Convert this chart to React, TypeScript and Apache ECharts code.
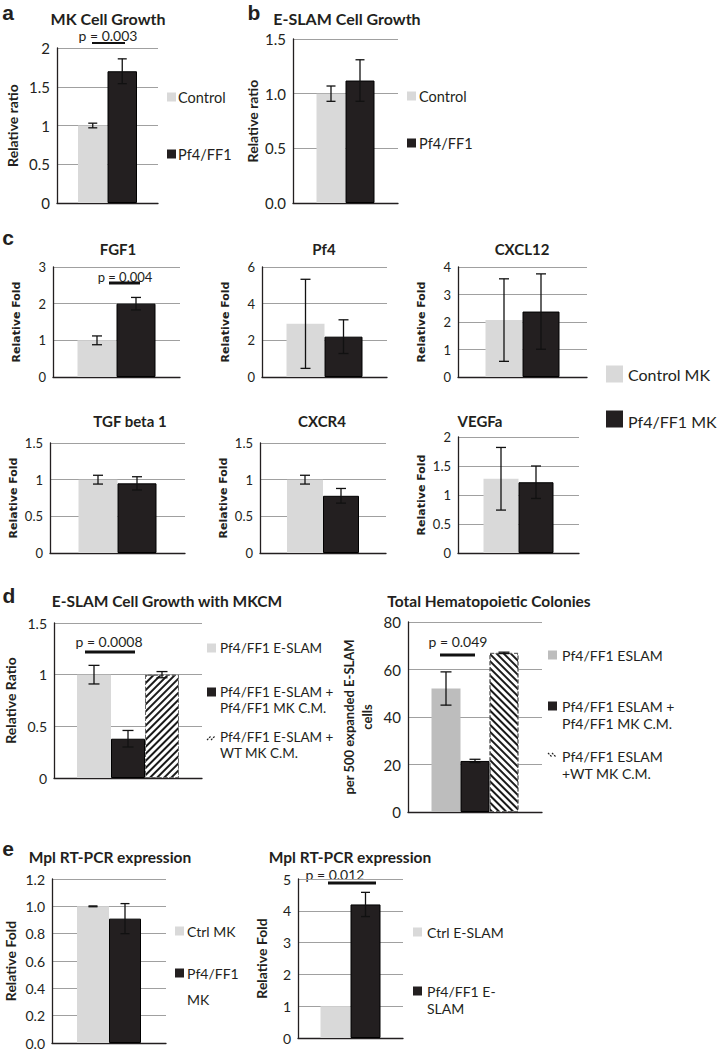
import React, { useEffect, useRef } from 'react';
import * as echarts from 'echarts';

const FONT = 'Lato, "Open Sans", sans-serif';
const LIGHT = '#d9d9d9';
const MID = '#bdbdbd';
const DARK = '#231f20';
const GRIDC = '#a0a0a0';
const AXISC = '#231f20';
const TEXTC = '#231f20';

// ---------- data ----------
// a: MK Cell Growth
const aNames = ['Control', 'Pf4/FF1'];
const aValues = [1.0, 1.7];
const aErrors = [0.03, 0.16];
const aRange = [0, 2, 0.5];

// b: E-SLAM Cell Growth
const bNames = ['Control', 'Pf4/FF1'];
const bValues = [1.0, 1.12];
const bErrors = [0.07, 0.19];
const bRange = [0, 1.5, 0.5];

// c: gene expression
const cNames = ['Control MK', 'Pf4/FF1 MK'];
const cGenes = ['FGF1', 'Pf4', 'CXCL12', 'TGF beta 1', 'CXCR4', 'VEGFa'];
const cControl = [1.0, 2.9, 2.07, 1.0, 1.0, 1.28];
const cControlErr = [0.12, 2.43, 1.5, 0.06, 0.06, 0.54];
const cPf4 = [2.0, 2.2, 2.38, 0.95, 0.78, 1.22];
const cPf4Err = [0.17, 0.92, 1.37, 0.09, 0.1, 0.28];
const cMax = [3, 6, 4, 1.5, 1.5, 2];
const cStep = [1, 2, 1, 0.5, 0.5, 0.5];

// d: E-SLAM Cell Growth with MKCM
const dLeftNames = ['Pf4/FF1 E-SLAM', 'Pf4/FF1 E-SLAM + Pf4/FF1 MK C.M.', 'Pf4/FF1 E-SLAM + WT MK C.M.'];
const dLeftValues = [1.0, 0.38, 1.0];
const dLeftErrors = [0.09, 0.08, 0.03];
const dLeftRange = [0, 1.5, 0.5];

// d: Total Hematopoietic Colonies
const dRightNames = ['Pf4/FF1 ESLAM', 'Pf4/FF1 ESLAM + Pf4/FF1 MK C.M.', 'Pf4/FF1 ESLAM +WT MK C.M.'];
const dRightValues = [52, 21.5, 67];
const dRightErrors = [7, 0.7, 0.3];
const dRightRange = [0, 80, 20];

// e: Mpl RT-PCR expression
const eLeftNames = ['Ctrl MK', 'Pf4/FF1 MK'];
const eLeftValues = [1.0, 0.91];
const eLeftErrors = [0.003, 0.11];
const eLeftRange = [0, 1.2, 0.2];

const eRightNames = ['Ctrl E-SLAM', 'Pf4/FF1 E-SLAM'];
const eRightValues = [1.0, 4.2];
const eRightErrors = [0, 0.38];
const eRightRange = [0, 5, 1];

// ---------- layout ----------
type Panel = {
  names: string[]; values: number[]; errors: number[]; range: number[];
  kinds: string[]; grid: number[]; bw: number; cap: number;
  yName: string; nameGap: number; nameSize: number; tickSize: number; decimals?: number;
};

const cGrids = [
  [53, 267, 127, 110], [262, 267, 125, 110], [458, 267, 129, 110],
  [50, 443, 135, 110], [260, 443, 126, 110], [458, 437, 121, 116],
];
const cBw = [39, 38, 37, 39, 36, 35];

const panels: Panel[] = [
  { names: aNames, values: aValues, errors: aErrors, range: aRange, kinds: ['light', 'dark'],
    grid: [57, 48, 101, 155], bw: 29.5, cap: 9, yName: 'Relative ratio', nameGap: 36,
    nameSize: 14, tickSize: 15 },
  { names: bNames, values: bValues, errors: bErrors, range: bRange, kinds: ['light', 'dark'],
    grid: [293, 39, 105, 164], bw: 29, cap: 9, yName: 'Relative ratio', nameGap: 31,
    nameSize: 14, tickSize: 15, decimals: 1 },
  ...cGenes.map((g, i) => ({
    names: cNames, values: [cControl[i], cPf4[i]], errors: [cControlErr[i], cPf4Err[i]],
    range: [0, cMax[i], cStep[i]], kinds: ['light', 'dark'], grid: cGrids[i], bw: cBw[i], cap: 10,
    yName: 'Relative Fold', nameGap: 30, nameSize: 11, tickSize: 13,
  })),
  { names: dLeftNames, values: dLeftValues, errors: dLeftErrors, range: dLeftRange,
    kinds: ['light', 'dark', 'hatchF'], grid: [50, 623, 152, 155], bw: 34, cap: 11,
    yName: 'Relative Ratio', nameGap: 35, nameSize: 14, tickSize: 14 },
  { names: dRightNames, values: dRightValues, errors: dRightErrors, range: dRightRange,
    kinds: ['mid', 'dark', 'hatchB'], grid: [408, 622, 134, 190], bw: 29, cap: 11,
    yName: 'per 500 expanded E-SLAM\ncells', nameGap: 32, nameSize: 13, tickSize: 15 },
  { names: eLeftNames, values: eLeftValues, errors: eLeftErrors, range: eLeftRange,
    kinds: ['light', 'dark'], grid: [52, 879, 114, 164], bw: 32, cap: 9, yName: 'Relative Fold',
    nameGap: 33, nameSize: 14, tickSize: 14, decimals: 1 },
  { names: eRightNames, values: eRightValues, errors: eRightErrors, range: eRightRange,
    kinds: ['light', 'dark'], grid: [298, 879, 105, 159], bw: 30, cap: 9, yName: 'Relative Fold',
    nameGap: 28, nameSize: 14, tickSize: 14 },
];

function barStyle(kind: string): any {
  if (kind === 'light') return { color: LIGHT };
  if (kind === 'mid') return { color: MID };
  if (kind === 'dark') return { color: DARK, borderColor: '#000', borderWidth: 1 };
  // pattern rotation is clockwise on screen: -PI/4 gives "/" stripes, +PI/4 gives "\" stripes
  const rot = kind === 'hatchF' ? -Math.PI / 4 : Math.PI / 4;
  return {
    color: '#ffffff', borderColor: '#666', borderWidth: 1, borderType: 'dashed',
    decal: { symbol: 'rect', symbolSize: 1, dashArrayX: [1, 0], dashArrayY: [2, 3],
      rotation: rot, color: '#1a1a1a', backgroundColor: '#ffffff' },
  };
}

function txt(x: number, y: number, text: string, font: string, align = 'center'): any {
  return {
    type: 'text', x, y, silent: true,
    style: { text, font, fill: TEXTC, textAlign: align, textVerticalAlign: 'middle', align, verticalAlign: 'middle' },
  };
}
function hline(x1: number, x2: number, y: number, w: number): any {
  return { type: 'line', silent: true, shape: { x1, y1: y, x2, y2: y }, style: { stroke: '#111', lineWidth: w } };
}
function sq(x: number, yc: number, w: number, h: number, kind: string): any[] {
  if (kind === 'hatchF' || kind === 'hatchB') {
    const f = kind === 'hatchF';
    const out: any[] = [];
    for (let k = 0; k < 2; k++) {
      const o = k * 4;
      out.push({ type: 'line', silent: true,
        shape: f ? { x1: x + o, y1: yc + 3, x2: x + o + 4, y2: yc - 1 } : { x1: x + o, y1: yc - 3, x2: x + o + 4, y2: yc + 1 },
        style: { stroke: '#222', lineWidth: 1.2, lineDash: [2, 1] } });
    }
    return out;
  }
  const color = kind === 'light' ? LIGHT : kind === 'mid' ? MID : DARK;
  return [{ type: 'rect', silent: true, shape: { x, y: yc - h / 2, width: w, height: h }, style: { fill: color } }];
}

function buildOption(): any {
  const option: any = {
    animation: false, grid: [], xAxis: [], yAxis: [], series: [], graphic: [],
    textStyle: { fontFamily: FONT, color: TEXTC },
  };
  panels.forEach((p, i) => {
    option.grid.push({ left: p.grid[0], top: p.grid[1], width: p.grid[2], height: p.grid[3], containLabel: false });
    option.xAxis.push({
      type: 'category', gridIndex: i, data: [''],
      axisLine: { show: true, onZero: false, lineStyle: { color: AXISC, width: 1.3 } },
      axisTick: { show: false }, axisLabel: { show: false }, splitLine: { show: false },
    });
    const isC = i >= 2 && i < 8;
    option.yAxis.push({
      type: 'value', gridIndex: i, min: p.range[0], max: p.range[1], interval: p.range[2],
      name: p.yName, nameLocation: 'middle', nameRotate: 90, nameGap: p.nameGap,
      nameTextStyle: {
        fontFamily: isC ? '"DejaVu Sans", Verdana, sans-serif' : FONT,
        fontWeight: 'bold', fontSize: p.nameSize, color: TEXTC,
        lineHeight: isC ? 13 : 18,
      },
      axisLine: { show: true, lineStyle: { color: AXISC, width: 1.3 } },
      axisTick: { show: false },
      axisLabel: {
        fontFamily: FONT, fontSize: p.tickSize, color: TEXTC, margin: 7,
        formatter: (v: number) => (p.decimals ? v.toFixed(p.decimals) : String(v)),
      },
      splitLine: { show: true, lineStyle: { color: GRIDC, width: 1.2 } },
    });
    p.names.forEach((n, k) => {
      option.series.push({
        type: 'bar', name: n, xAxisIndex: i, yAxisIndex: i, data: [p.values[k]],
        barWidth: p.bw, barGap: '0%', itemStyle: barStyle(p.kinds[k]), silent: true, z: 2,
      });
    });
    const n = p.names.length;
    const offsets = p.names.map((_, k) => (k - (n - 1) / 2) * p.bw);
    const cap = p.cap;
    option.series.push({
      type: 'custom', name: 'SEM', xAxisIndex: i, yAxisIndex: i, silent: true, z: 5,
      data: p.values.map((v, k) => [0, v, p.errors[k]]),
      encode: { x: 0, y: 1 },
      renderItem: (params: any, api: any) => {
        const k = params.dataIndex;
        const v = api.value(1);
        const e = api.value(2);
        if (!e) return null;
        const base = api.coord([0, v]);
        const x = base[0] + offsets[k];
        const yt = api.coord([0, v + e])[1];
        const yb = api.coord([0, v - e])[1];
        const st = { stroke: '#111', lineWidth: 1.3 };
        return {
          type: 'group',
          children: [
            { type: 'line', shape: { x1: x, y1: yt, x2: x, y2: yb }, style: st },
            { type: 'line', shape: { x1: x - cap / 2, y1: yt, x2: x + cap / 2, y2: yt }, style: st },
            { type: 'line', shape: { x1: x - cap / 2, y1: yb, x2: x + cap / 2, y2: yb }, style: st },
          ],
        };
      },
    });
  });

  const g: any[] = option.graphic;
  const BL = (s: number) => `bold ${s}px ${FONT}`;
  const RG = (s: number) => `${s}px ${FONT}`;
  const LET = 'bold 21px Arial, "Liberation Sans", sans-serif';
  // panel letters
  g.push(txt(8, 12, 'a', LET), txt(254, 12, 'b', LET), txt(8, 237, 'c', LET), txt(9, 595, 'd', LET), txt(8, 848, 'e', LET));
  // titles
  g.push(txt(108, 18, 'MK Cell Growth', BL(16)), txt(347, 18, 'E-SLAM Cell Growth', BL(16)));
  const cTitlePos = [[118, 249], [324, 249], [522, 249], [130, 421], [322, 421], [480, 421]];
  cGenes.forEach((t, i) => g.push(txt(cTitlePos[i][0], cTitlePos[i][1], t, BL(15))));
  g.push(txt(167, 601, 'E-SLAM Cell Growth with MKCM', BL(15.5)), txt(489, 601, 'Total Hematopoietic Colonies', BL(15.5)));
  g.push(txt(110, 857, 'Mpl RT-PCR expression', BL(15.5)), txt(350, 857, 'Mpl RT-PCR expression', BL(15.5)));
  // p-values
  g.push(txt(108, 35, 'p = 0.003', RG(14)), hline(92, 125, 43, 2));
  g.push(txt(125, 277, 'p = 0.004', RG(13)), hline(109, 140, 283, 3));
  g.push(txt(109, 641, 'p = 0.0008', RG(14)), hline(85, 135, 652, 3));
  g.push(txt(458, 641, 'p = 0.049', RG(14)), hline(440, 475, 655, 3));
  g.push(txt(335, 874, 'p = 0.012', RG(14)), hline(328, 376, 883, 3));

  // legends
  const leg = (x: number, yc: number, kind: string, lines: string[], font: string, lh: number, tx: number, s = 9) => {
    sq(x, yc, s, s, kind).forEach((el) => g.push(el));
    lines.forEach((l, k) => g.push(txt(tx, yc + k * lh, l, font, 'left')));
  };
  leg(167, 97, 'light', ['Control'], RG(14.5), 16, 178);
  leg(167, 154, 'dark', ['Pf4/FF1'], RG(14.5), 16, 178);
  leg(407, 96, 'light', ['Control'], RG(14.5), 16, 419);
  leg(407, 143, 'dark', ['Pf4/FF1'], RG(14.5), 16, 419);
  g.push(...sq(606, 374, 17, 17, 'light'), txt(628, 374, 'Control MK', RG(16), 'left'));
  g.push(...sq(606, 419, 17, 17, 'dark'), txt(628, 421, 'Pf4/FF1 MK', RG(16), 'left'));
  leg(207, 648, 'light', ['Pf4/FF1 E-SLAM'], RG(13.5), 16, 220);
  leg(207, 692, 'dark', ['Pf4/FF1 E-SLAM +', 'Pf4/FF1 MK C.M.'], RG(13.5), 16, 220);
  leg(207, 737, 'hatchF', ['Pf4/FF1 E-SLAM +', 'WT MK C.M.'], RG(13.5), 16, 220);
  leg(548, 655, 'mid', ['Pf4/FF1 ESLAM'], RG(14), 17, 562);
  leg(548, 706, 'dark', ['Pf4/FF1 ESLAM +', 'Pf4/FF1 MK C.M.'], RG(14), 17, 562);
  leg(548, 756, 'hatchB', ['Pf4/FF1 ESLAM', '+WT MK C.M.'], RG(14), 17, 562);
  leg(175, 931, 'light', ['Ctrl MK'], RG(14), 26, 187);
  leg(175, 973, 'dark', ['Pf4/FF1', 'MK'], RG(14), 26, 187);
  leg(413, 932, 'light', ['Ctrl E-SLAM'], RG(14), 17, 427);
  leg(413, 991, 'dark', ['Pf4/FF1 E-', 'SLAM'], RG(14), 17, 427);

  return option;
}

export default function App() {
  const ref = useRef<HTMLDivElement>(null);
  useEffect(() => {
    document.body.style.margin = '0';
    if (!ref.current) return;
    const chart = echarts.init(ref.current, undefined, { renderer: 'svg' });
    chart.setOption(buildOption());
    return () => chart.dispose();
  }, []);
  return <div ref={ref} style={{ width: 718, height: 1050, background: '#fff' }} />;
}
